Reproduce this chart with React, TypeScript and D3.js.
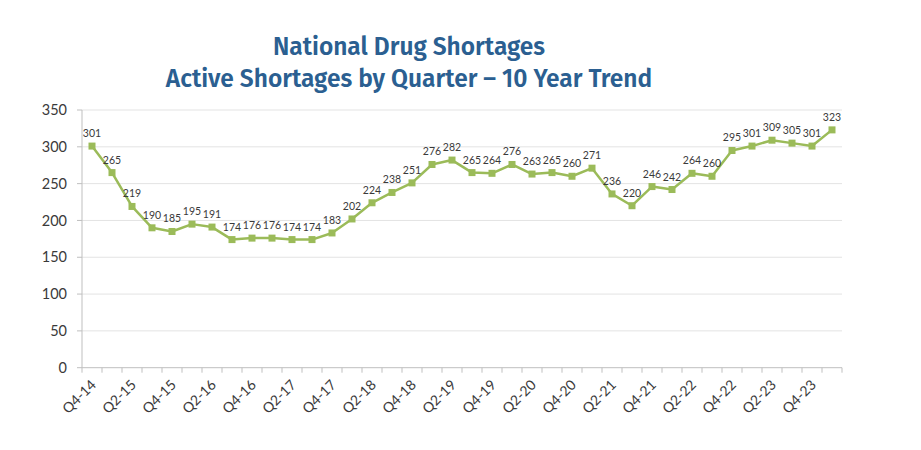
import React from "react";
import * as d3 from "d3";

const quarters = [
  "Q4-14","Q1-15","Q2-15","Q3-15","Q4-15","Q1-16","Q2-16","Q3-16","Q4-16","Q1-17",
  "Q2-17","Q3-17","Q4-17","Q1-18","Q2-18","Q3-18","Q4-18","Q1-19","Q2-19","Q3-19",
  "Q4-19","Q1-20","Q2-20","Q3-20","Q4-20","Q1-21","Q2-21","Q3-21","Q4-21","Q1-22",
  "Q2-22","Q3-22","Q4-22","Q1-23","Q2-23","Q3-23","Q4-23","Q1-24",
];
const shortages = [
  301,265,219,190,185,195,191,174,176,176,
  174,174,183,202,224,238,251,276,282,265,
  264,276,263,265,260,271,236,220,246,242,
  264,260,295,301,309,305,301,323,
];
const yTicks = [0,50,100,150,200,250,300,350];
const titleLines = ["National Drug Shortages", "Active Shortages by Quarter \u2013 10 Year Trend"];

const W = 921, H = 450;
const left = 82, right = 842, top = 110, bottom = 367.7;
const green = "#9bbb59";
const textGray = "#3a3a3a";
const font = "Lato, 'Open Sans', sans-serif";

export default function App() {
  const x = d3.scaleBand<string>().domain(quarters).range([left, right]);
  const y = d3.scaleLinear().domain([0, 350]).range([bottom, top]);
  const cx = (q: string) => (x(q) as number) + x.bandwidth() / 2;
  const pts = quarters.map((q, i) => ({ q, v: shortages[i] }));
  const line = d3.line<{ q: string; v: number }>().x(d => cx(d.q)).y(d => y(d.v));
  const tickEdges = quarters.map(q => x(q) as number).concat([right]);

  return (
    <svg width={W} height={H} style={{ position: "absolute", left: 0, top: 0, background: "#fff" }}>
      <g fontFamily="'Fira Sans', 'Open Sans', sans-serif" fontWeight={600} fill="#2b5f91" fontSize={24.5} textAnchor="middle">
        <text x={409} y={55}>{titleLines[0]}</text>
        <text x={409} y={87}>{titleLines[1]}</text>
      </g>
      {yTicks.map(t => (
        <g key={t}>
          {t > 0 && <line x1={left} x2={right} y1={y(t)} y2={y(t)} stroke="#e3e3e3" strokeWidth={1} />}
          <line x1={left - 5} x2={left} y1={y(t)} y2={y(t)} stroke="#bfbfbf" />
          <text x={67} y={y(t)} dy="0.35em" textAnchor="end" fontFamily={font} fontSize={14.5} fill={textGray}>{t}</text>
        </g>
      ))}
      <line x1={left} x2={left} y1={top} y2={bottom} stroke="#bfbfbf" />
      <line x1={left} x2={right} y1={bottom} y2={bottom} stroke="#bfbfbf" />
      {tickEdges.map((tx, i) => (
        <line key={i} x1={tx} x2={tx} y1={bottom} y2={bottom + 5} stroke="#bfbfbf" />
      ))}
      {quarters.map((q, i) => i % 2 === 0 ? (
        <text key={q} transform={`translate(${cx(q) + 5},${bottom + 18}) rotate(-45)`} textAnchor="end"
          fontFamily={font} fontSize={14} fill={textGray}>{q}</text>
      ) : null)}
      <path d={line(pts) || ""} fill="none" stroke={green} strokeWidth={2.5} strokeLinejoin="round" />
      {pts.map(p => (
        <rect key={p.q} x={cx(p.q) - 3.5} y={y(p.v) - 3.5} width={7} height={7} fill={green} />
      ))}
      {pts.map(p => (
        <text key={"l" + p.q} x={cx(p.q)} y={y(p.v) - 9} textAnchor="middle" fontFamily={font} fontSize={10.5} fill={textGray}>{p.v}</text>
      ))}
    </svg>
  );
}
